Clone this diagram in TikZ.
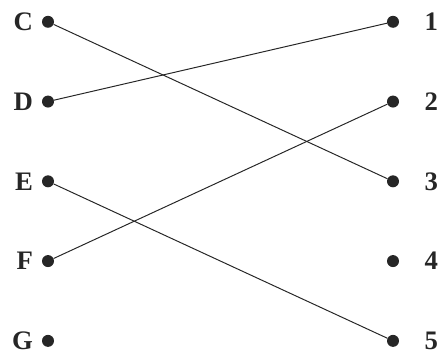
\documentclass[tikz,border=0pt]{standalone}
\usepackage{fontspec}
\setmainfont{Liberation Serif}
\usetikzlibrary{positioning}
\tikzset{
  dotnode/.style={circle, fill=black!85, inner sep=0pt, minimum size=0.3cm},
  lbl/.style={font=\fontsize{19}{22}\selectfont\bfseries, text=black!85, inner sep=0pt},
  leftdot/.style={dotnode, label={[lbl, label distance=0.215cm]left:#1}},
  rightdot/.style={dotnode, label={[lbl, label distance=0.625cm]right:#1}},
  link/.style={line width=0.7pt, black!85},
}
\begin{document}
\begin{tikzpicture}[node distance=1.68cm]
  \useasboundingbox (0,0) rectangle (11.025,8.825);
  % left column
  \node[leftdot=C] (c) at (1.2,8.28) {};
  \node[leftdot=D, below=of c] (d) {};
  \node[leftdot=E, below=of d] (e) {};
  \node[leftdot=F, below=of e] (f) {};
  \node[leftdot=G, below=of f] (g) {};

  % right column
  \node[rightdot=1] (one) at (9.825,8.28) {};
  \node[rightdot=2, below=of one] (two) {};
  \node[rightdot=3, below=of two] (three) {};
  \node[rightdot=4, below=of three] (four) {};
  \node[rightdot=5, below=of four] (five) {};

  \draw[link] (c) -- (three);
  \draw[link] (d) -- (one);
  \draw[link] (e) -- (five);
  \draw[link] (f) -- (two);
\end{tikzpicture}
\end{document}
